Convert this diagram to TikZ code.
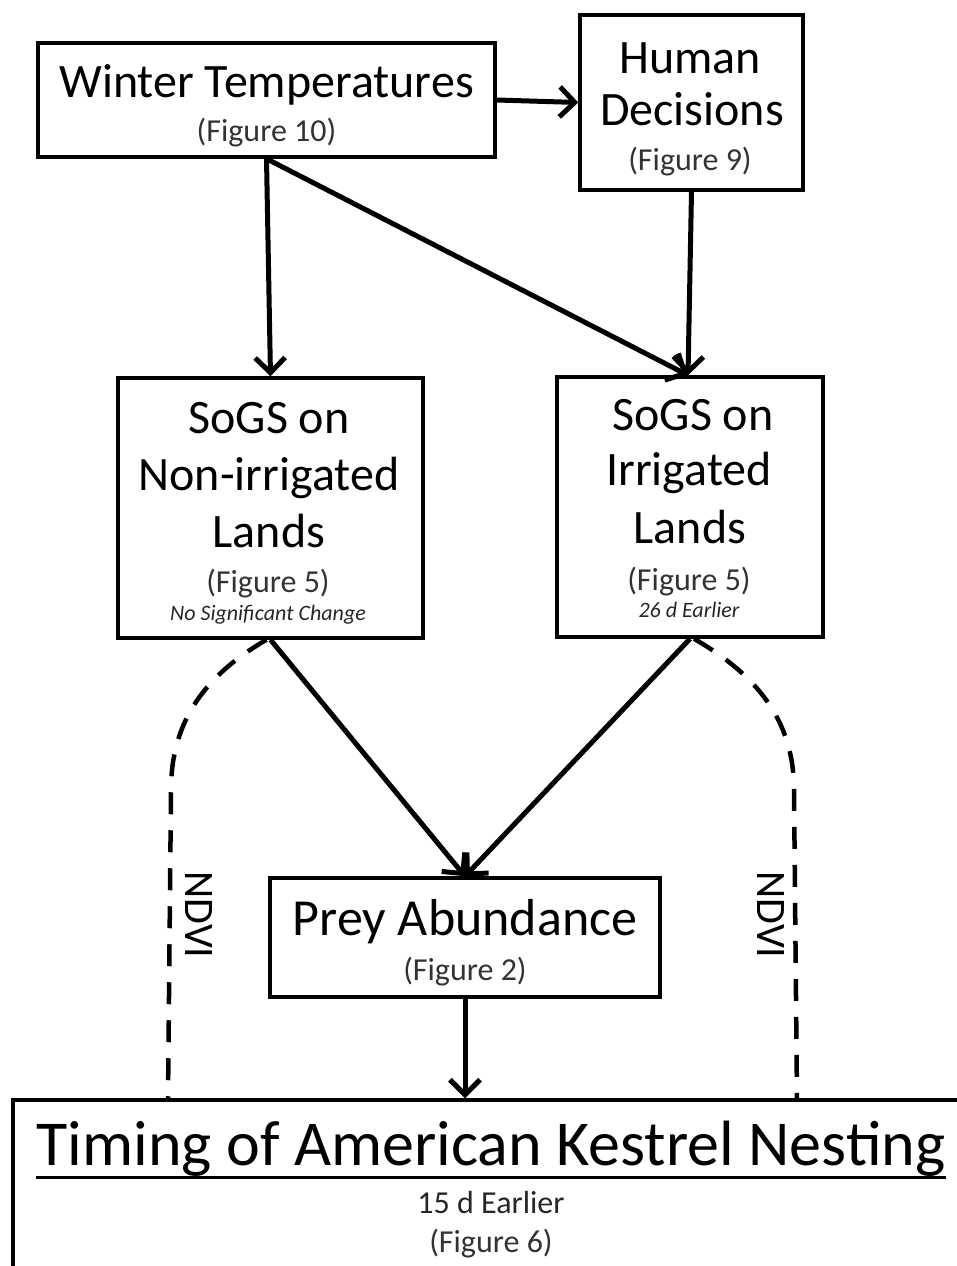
\documentclass[tikz,border=0pt]{standalone}
\usepackage{fontspec}
\setmainfont{Carlito}
\usetikzlibrary{arrows.meta}

\begin{document}
\begin{tikzpicture}[x=1pt,y=-1pt]
\tikzstyle{every node}+=[inner sep=0pt]
\tikzstyle{box}=[draw=black,line width=3.5pt,rectangle]
\tikzstyle{big}=[anchor=base,font=\fontsize{48}{58}\selectfont]
\tikzstyle{fig}=[anchor=base,text=black!80,font=\fontsize{32}{38}\selectfont]
\tikzstyle{note}=[anchor=base,text=black!85,font=\fontsize{22}{26}\selectfont\itshape]
\tikzstyle{link}=[line width=5pt,-{Straight Barb[length=15pt,width=30pt,line width=5pt]}]
\tikzstyle{ndvi}=[line width=4.5pt,dash pattern=on 22pt off 16pt]
\useasboundingbox (0,0) rectangle (956,1266);
\node [box,minimum width=457,minimum height=114] (wt) at (266.5,100) {};
\node [big] (wt1) at (266.5,97) {Winter Temperatures};
\node [fig] (wt2) at (266.5,141) {(Figure 10)};
\node [box,minimum width=223,minimum height=175] (hd) at (691.5,102.5) {};
\node [big] (hd1) at (690,73) {Human};
\node [big] (hd2) at (692,125) {Decisions};
\node [fig] (hd3) at (690,170) {(Figure 9)};
\node [box,minimum width=305,minimum height=260] (ni) at (270.5,508) {};
\node [big] (ni1) at (269,433) {SoGS on};
\node [big] (ni2) at (269,490) {Non-irrigated};
\node [big] (ni3) at (269,547) {Lands};
\node [fig] (ni4) at (268,592) {(Figure 5)};
\node [note] (ni5) at (268,620) {No Significant Change};
\node [box,minimum width=266,minimum height=260] (ir) at (690,507) {};
\node [big] (ir1) at (693,430) {SoGS on};
\node [big] (ir2) at (689,485) {Irrigated};
\node [big] (ir3) at (690,543) {Lands};
\node [fig] (ir4) at (689,590) {(Figure 5)};
\node [note] (ir5) at (689,617) {26 d Earlier};
\node [box,minimum width=390,minimum height=119] (prey) at (465,937.5) {};
\node [anchor=base,font=\fontsize{52}{62}\selectfont] (prey1) at (465,935) {Prey Abundance};
\node [fig] (prey2) at (465,980) {(Figure 2)};
\node [box,minimum width=1000,minimum height=220] (nest) at (513,1210) {};
\node [anchor=base,font=\fontsize{64}{76}\selectfont] (nest1) at (491,1165) {Timing of American Kestrel Nesting};
\draw [black,line width=3pt] ([yshift=-12pt]nest1.base west) -- ([yshift=-12pt]nest1.base east);
\node [fig,text=black!85] (nest2) at (491,1213) {15 d Earlier};
\node [fig] (nest3) at (491,1252) {(Figure 6)};
\node [rotate=-90,font=\fontsize{42}{50}\selectfont] (ndvi1) at (199,915) {NDVI};
\node [rotate=-90,font=\fontsize{42}{50}\selectfont] (ndvi2) at (771,915) {NDVI};
\coordinate (endL) at (168,1100);
\coordinate (endR) at (797,1100);
\draw [link] (wt.east) -- (hd.west);
\draw [link] (wt.south) -- (ni.north);
\draw [link] (wt.south) -- ([xshift=-2pt]ir.north);
\draw [link] (hd.south) -- ([xshift=-2pt]ir.north);
\draw [link] (ni.south) -- (prey.north);
\draw [link] (ir.south) -- (prey.north);
\draw [link] (prey.south) -- (prey.south |- nest.north);
\draw [ndvi] ([xshift=-4pt]ni.south) to[out=210,in=90] (171,790) -- (endL);
\draw [ndvi] ([xshift=4pt]ir.south) to[out=-30,in=90] (794,790) -- (endR);
\end{tikzpicture}
\end{document}
